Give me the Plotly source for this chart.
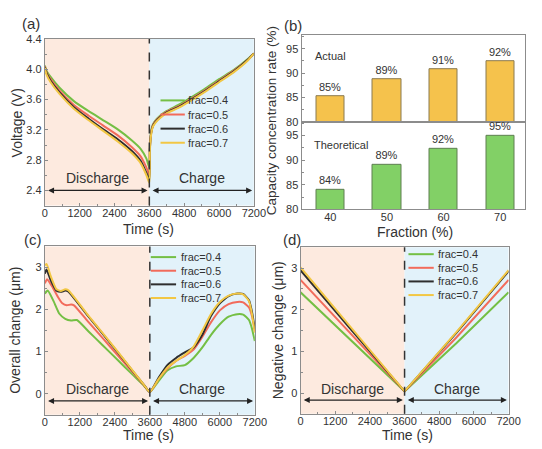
import plotly.graph_objects as go

W, H = 542, 449
FONT = "Liberation Sans, Arial, sans-serif"

labels = ["frac=0.4", "frac=0.5", "frac=0.6", "frac=0.7"]
colors = ["#74BF44", "#F26B5B", "#2E2E2E", "#F2C744"]

# ---- panel (a): voltage ----
t_a = [0, 60, 200, 500, 1000, 1500, 2000, 2500, 3000, 3300, 3500, 3600,
       3620, 3660, 3720, 3800, 3950, 4200, 4600, 5000, 5500, 6000, 6500, 7000, 7200]
v_04 = [4.05, 3.98, 3.90, 3.76, 3.58, 3.45, 3.33, 3.21, 3.06, 2.95, 2.82, 2.70,
        3.00, 3.18, 3.27, 3.32, 3.38, 3.45, 3.53, 3.62, 3.74, 3.87, 3.99, 4.14, 4.21]
v_05 = [4.04, 3.96, 3.87, 3.72, 3.53, 3.39, 3.26, 3.13, 2.97, 2.85, 2.70, 2.60,
        2.97, 3.16, 3.26, 3.31, 3.37, 3.44, 3.51, 3.60, 3.72, 3.85, 3.98, 4.13, 4.21]
v_06 = [4.03, 3.95, 3.85, 3.70, 3.50, 3.35, 3.21, 3.08, 2.92, 2.79, 2.63, 2.55,
        2.95, 3.15, 3.25, 3.30, 3.36, 3.43, 3.50, 3.59, 3.71, 3.84, 3.97, 4.13, 4.21]
v_07 = [4.02, 3.93, 3.83, 3.68, 3.48, 3.33, 3.19, 3.05, 2.89, 2.76, 2.60, 2.50,
        2.92, 3.13, 3.24, 3.29, 3.35, 3.42, 3.49, 3.58, 3.70, 3.83, 3.96, 4.12, 4.21]

# ---- panel (b): capacity concentration rate ----
fraction = [40, 50, 60, 70]
actual = [85.3, 88.7, 90.8, 92.4]
actual_lbl = ["85%", "89%", "91%", "92%"]
theoretical = [84.0, 89.0, 92.4, 95.0]
theoretical_lbl = ["84%", "89%", "92%", "95%"]

# ---- panel (c): overall change ----
t_c04 = [0, 100, 300, 500, 700, 900, 1100, 1500, 2000, 2500, 3000, 3400, 3600,
         3900, 4200, 4500, 4800, 5100, 5400, 5700, 6000, 6300, 6600, 6800, 7000, 7100, 7200]
c_04 = [2.38, 2.45, 2.2, 1.9, 1.78, 1.74, 1.75, 1.48, 1.14, 0.80, 0.46, 0.19, 0.04,
        0.3, 0.55, 0.65, 0.68, 0.85, 1.1, 1.4, 1.65, 1.83, 1.89, 1.88, 1.75, 1.55, 1.25]
t_c05 = [0, 80, 250, 450, 600, 750, 900, 1000, 1500, 2000, 2500, 3000, 3400, 3600,
         3900, 4200, 4500, 4800, 5100, 5400, 5700, 6000, 6300, 6600, 6800, 7000, 7100, 7200]
c_05 = [2.62, 2.72, 2.55, 2.3, 2.15, 2.1, 2.12, 2.1, 1.70, 1.31, 0.91, 0.52, 0.2, 0.04,
        0.35, 0.6, 0.78, 0.9, 1.05, 1.35, 1.7, 1.98, 2.13, 2.18, 2.17, 2.05, 1.85, 1.5]
t_c06 = [0, 60, 200, 400, 550, 700, 800, 1500, 2000, 2500, 3000, 3400, 3600,
         3900, 4200, 4500, 4800, 5100, 5400, 5700, 6000, 6300, 6600, 6800, 7000, 7100, 7200]
c_06 = [2.85, 2.95, 2.7, 2.45, 2.42, 2.45, 2.43, 1.83, 1.41, 0.98, 0.55, 0.21, 0.04,
        0.38, 0.68, 0.85, 0.98, 1.1, 1.4, 1.85, 2.15, 2.32, 2.38, 2.37, 2.22, 1.95, 1.55]
c_07 = [3.05, 3.08, 2.8, 2.48, 2.44, 2.48, 2.46, 1.85, 1.43, 1.0, 0.56, 0.21, 0.04,
        0.35, 0.62, 0.78, 0.92, 1.12, 1.5, 1.9, 2.18, 2.33, 2.38, 2.36, 2.2, 1.9, 1.45]

# ---- panel (d): negative change ----
t_d = [0, 1800, 3600, 5400, 7200]
d_04 = [2.42, 1.22, 0.04, 1.20, 2.42]
d_05 = [2.72, 1.37, 0.04, 1.34, 2.72]
d_06 = [2.95, 1.48, 0.04, 1.45, 2.93]
d_07 = [3.02, 1.52, 0.04, 1.47, 2.95]

time_ticks = [0, 1200, 2400, 3600, 4800, 6000, 7200]


def px_x(a, b):
    return [a / W, b / W]


def px_y(top, bottom):
    return [1 - bottom / H, 1 - top / H]


fig = go.Figure()

series_a = [v_04, v_05, v_06, v_07]
for lab, col, ys in zip(labels, colors, series_a):
    fig.add_trace(go.Scatter(x=t_a, y=ys, mode="lines", name=lab, line=dict(color=col, width=2,
                             shape="spline", smoothing=0.6), xaxis="x", yaxis="y", showlegend=False))

fig.add_trace(go.Bar(x=fraction, y=actual, text=actual_lbl, textposition="outside", width=5,
                     marker=dict(color="#F5C24C", line=dict(color="#8A7A50", width=1)),
                     xaxis="x2", yaxis="y2", showlegend=False, cliponaxis=False,
                     textfont=dict(size=11, color="#333")))
fig.add_trace(go.Bar(x=fraction, y=theoretical, text=theoretical_lbl, textposition="outside", width=5,
                     marker=dict(color="#82D066", line=dict(color="#5E7F50", width=1)),
                     xaxis="x3", yaxis="y3", showlegend=False, cliponaxis=False,
                     textfont=dict(size=11, color="#333")))

series_c = [(t_c04, c_04), (t_c05, c_05), (t_c06, c_06), (t_c06, c_07)]
for lab, col, (xs, ys) in zip(labels, colors, series_c):
    fig.add_trace(go.Scatter(x=xs, y=ys, mode="lines", name=lab, line=dict(color=col, width=2,
                             shape="spline", smoothing=0.5), xaxis="x4", yaxis="y4", showlegend=False))

series_d = [d_04, d_05, d_06, d_07]
for lab, col, ys in zip(labels, colors, series_d):
    fig.add_trace(go.Scatter(x=t_d, y=ys, mode="lines", name=lab, line=dict(color=col, width=2),
                             xaxis="x5", yaxis="y5", showlegend=False))

axis_common = dict(showline=True, linecolor="#8C8C8C", linewidth=1, mirror=True, ticks="inside",
                   ticklen=3, tickcolor="#8C8C8C", showgrid=False, zeroline=False,
                   tickfont=dict(family=FONT, size=11, color="#333"))
minor_t = dict(ticks="inside", ticklen=2, tickcolor="#8C8C8C")

time_axis = dict(axis_common, range=[0, 7200], tickvals=time_ticks, minor=dict(minor_t, dtick=600),
                 ticklabelstandoff=-3)

fig.update_layout(
    width=W, height=H, margin=dict(l=0, r=0, t=0, b=0),
    paper_bgcolor="white", plot_bgcolor="white",
    font=dict(family=FONT, color="#333"),
    showlegend=False,
    xaxis=dict(time_axis, domain=px_x(43, 258), anchor="y"),
    yaxis=dict(axis_common, domain=px_y(34, 205), anchor="x", range=[2.2, 4.4], dtick=0.4,
               tickformat=".1f", minor=dict(minor_t, dtick=0.2)),
    xaxis2=dict(axis_common, domain=px_x(307, 537), anchor="y2", range=[34.9, 74.4],
                tickvals=fraction, showticklabels=False, ticks=""),
    yaxis2=dict(axis_common, domain=px_y(30, 119), anchor="x2", range=[80, 97.8], tickvals=[80, 85, 90, 95],
                minor=dict(minor_t, dtick=2.5)),
    xaxis3=dict(axis_common, domain=px_x(307, 537), anchor="y3", range=[34.9, 74.4],
                tickvals=fraction, ticks="", ticklabelstandoff=-3),
    yaxis3=dict(axis_common, domain=px_y(119, 209), anchor="x3", range=[80, 97.8], tickvals=[80, 85, 90, 95],
                minor=dict(minor_t, dtick=2.5)),
    xaxis4=dict(time_axis, domain=px_x(43, 259), anchor="y4"),
    yaxis4=dict(axis_common, domain=px_y(247, 420), anchor="x4", range=[-0.5, 3.5], tickvals=[0, 1, 2, 3],
                minor=dict(minor_t, dtick=0.5)),
    xaxis5=dict(time_axis, domain=px_x(306, 520), anchor="y5"),
    yaxis5=dict(axis_common, domain=px_y(248, 419), anchor="x5", range=[-0.5, 3.5], tickvals=[0, 1, 2, 3],
                minor=dict(minor_t, dtick=0.5)),
    bargap=0,
)

shapes = []
anns = []
for xa, ya, ylow, ytext in [("x", "y", 2.4, 2.56), ("x4", "y4", -0.17, 0.12), ("x5", "y5", -0.17, 0.1)]:
    shapes.append(dict(type="rect", xref=xa, yref=ya + " domain", x0=0, x1=3600, y0=0, y1=1,
                       fillcolor="#FDEADF", line=dict(width=0), layer="below"))
    shapes.append(dict(type="rect", xref=xa, yref=ya + " domain", x0=3600, x1=7200, y0=0, y1=1,
                       fillcolor="#E2F2FA", line=dict(width=0), layer="below"))
    shapes.append(dict(type="line", xref=xa, yref=ya + " domain", x0=3600, x1=3600, y0=0, y1=1,
                       line=dict(color="#333", width=1.5, dash="dash")))
    for x0, x1 in [(60, 3540), (3660, 7140)]:
        anns.append(dict(x=x1, y=ylow, ax=x0, ay=ylow, xref=xa, yref=ya, axref=xa, ayref=ya, text="",
                         showarrow=True, arrowhead=2, arrowside="end+start", arrowsize=1,
                         arrowwidth=1.2, arrowcolor="#222"))
    anns.append(dict(x=1800, y=ytext, xref=xa, yref=ya, text="Discharge", showarrow=False,
                     font=dict(family=FONT, size=14, color="#333")))
    anns.append(dict(x=5400, y=ytext, xref=xa, yref=ya, text="Charge", showarrow=False,
                     font=dict(family=FONT, size=14, color="#333")))


def ann_px(x, y, text, size, angle=0, xanchor="center"):
    anns.append(dict(x=x / W, y=1 - y / H, xref="paper", yref="paper", text=text, showarrow=False,
                     xanchor=xanchor, yanchor="middle", textangle=angle,
                     font=dict(family=FONT, size=size, color="#333")))


# manual legends (pixel positions of legend rows)
def legend_px(xl0, xl1, xt, ys):
    for lab, col, yy in zip(labels, colors, ys):
        shapes.append(dict(type="line", xref="paper", yref="paper", x0=xl0 / W, x1=xl1 / W,
                           y0=1 - yy / H, y1=1 - yy / H, line=dict(color=col, width=2)))
        ann_px(xt, yy, lab, 11, xanchor="left")


legend_px(162, 187, 188, [97, 111.5, 126, 140.5])
legend_px(152, 178, 181, [258, 272, 286, 300])
legend_px(417, 443, 445, [255, 269, 283, 297])

ann_px(29, 18, "(a)", 15)
ann_px(298, 20, "(b)", 15)
ann_px(31, 240, "(c)", 15)
ann_px(297, 240, "(d)", 15)
ann_px(150, 229, "Time (s)", 14)
ann_px(150, 441, "Time (s)", 14)
ann_px(416, 441, "Time (s)", 14)
ann_px(424, 232, "Fraction (%)", 14)
ann_px(14, 120, "Voltage (V)", 14, -90)
ann_px(277, 118, "Capacity concentration rate (%)", 13.5, -90)
ann_px(12, 333, "Overall change (μm)", 14, -90)
ann_px(283, 333, "Negative change (μm)", 14, -90)
ann_px(319, 51, "Actual", 11, xanchor="left")
ann_px(318, 143, "Theoretical", 11, xanchor="left")

fig.update_layout(shapes=shapes, annotations=anns)
fig.write_html("out.html")
